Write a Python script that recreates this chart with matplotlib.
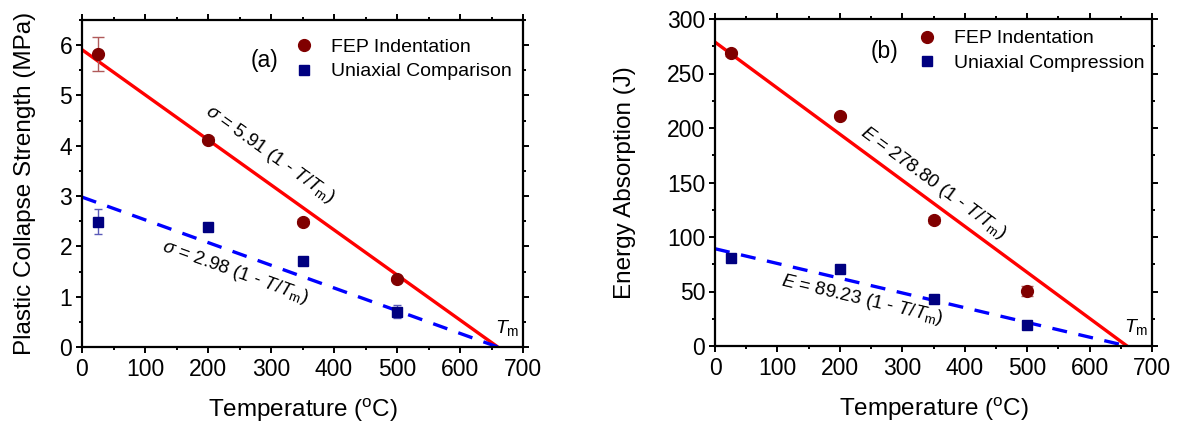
import numpy as np
import matplotlib.pyplot as plt
from matplotlib.ticker import MultipleLocator
from matplotlib.lines import Line2D

plt.rcParams['font.family'] = ['Liberation Sans', 'DejaVu Sans']
plt.rcParams['mathtext.fontset'] = 'custom'
plt.rcParams['mathtext.rm'] = 'Liberation Sans'
plt.rcParams['mathtext.it'] = 'Liberation Sans:italic'

# data
temp = [25, 200, 350, 500]
tm = 660

# (a) strength, MPa
fep_strength = [5.83, 4.12, 2.49, 1.35]
fep_strength_err = [0.34, 0.05, 0.05, 0.04]
uni_strength = [2.49, 2.38, 1.70, 0.70]
uni_strength_err = [0.25, 0.04, 0.04, 0.13]
fit_a = [5.91, 2.98]

# (b) energy absorption, J
fep_energy = [268.5, 211, 115.5, 50.5]
fep_energy_err = [2, 2, 3, 5]
uni_energy = [80.5, 71, 43.5, 19.3]
uni_energy_err = [2, 2, 2, 2]
fit_b = [278.80, 89.23]

W, H = 1178, 425
fig = plt.figure(figsize=(W / 100, H / 100), dpi=100)
ax1 = fig.add_axes([82 / W, (H - 347) / H, 441 / W, 327 / H])
ax2 = fig.add_axes([715 / W, (H - 346) / H, 437 / W, 327 / H])

red = '#ff0000'
blue = '#0000ff'
fep_c = '#800000'
uni_c = '#000080'


def draw(ax, fep, fep_err, uni, uni_err, fits, ylim, ymaj, ymin, ylabel,
         ylab_x, tag, tag_pos, uni_name, leg_xy, txt_pos, sym):
    ax.set_xlim(0, 700)
    ax.set_ylim(*ylim)
    tt = np.array([0, tm])
    ax.plot(tt, fits[0] * (1 - tt / tm), color=red, lw=2.4, zorder=2)
    ax.plot(tt, fits[1] * (1 - tt / tm), color=blue, lw=2.4,
            ls=(0, (4.5, 3.5)), zorder=2)
    ax.errorbar(temp, fep, yerr=fep_err, fmt='o', color=fep_c, ms=8.5,
                ecolor='#b05a5a', elinewidth=1, capsize=4, zorder=3)
    ax.errorbar(temp, uni, yerr=uni_err, fmt='s', color=uni_c, ms=7,
                ecolor='#5a5ab8', elinewidth=1, capsize=3, zorder=3)

    fig.canvas.draw()
    for fit, (x, y) in zip(fits, txt_pos):
        p0 = ax.transData.transform((0, fit))
        p1 = ax.transData.transform((tm, 0))
        ang = np.degrees(np.arctan2(p1[1] - p0[1], p1[0] - p0[0]))
        head = r'$\mathit{E}$' if sym == 'E' else r'$\mathit{\sigma}$'
        ax.text(x, y, head + r' = %.2f (1 - $\mathit{T/T}_{\rm m}$)' % fit,
                rotation=ang, rotation_mode='anchor', ha='center',
                va='center', fontsize=13.5)

    ax.text(655, ylim[1] * 0.058, r'$\mathit{T}_{\rm m}$', fontsize=14,
            ha='left', va='center')
    ax.text(tag_pos[0], tag_pos[1], tag, fontsize=16.5, ha='center',
            va='center')

    handles = [Line2D([], [], ls='none', marker='o', color=fep_c, ms=8.5),
               Line2D([], [], ls='none', marker='s', color=uni_c, ms=6.5)]
    ax.legend(handles, ['FEP Indentation', uni_name], loc='upper left',
              bbox_to_anchor=leg_xy, frameon=False, fontsize=14,
              handlelength=1.0, handletextpad=0.9, borderaxespad=0,
              borderpad=0, labelspacing=0.35)

    ax.xaxis.set_major_locator(MultipleLocator(100))
    ax.xaxis.set_minor_locator(MultipleLocator(50))
    ax.yaxis.set_major_locator(MultipleLocator(ymaj))
    ax.yaxis.set_minor_locator(MultipleLocator(ymin))
    ax.tick_params(which='both', direction='out', top=True, right=True,
                   width=1.4, labelsize=16.5)
    ax.tick_params(which='major', length=4)
    ax.tick_params(which='minor', length=2.5)
    ax.tick_params(axis='x', pad=4)
    ax.tick_params(axis='y', pad=3)
    for s in ax.spines.values():
        s.set_linewidth(1.6)
    ax.set_xlabel(r'Temperature ($^{\rm o}$C)', fontsize=17.5, labelpad=11)
    ax.set_ylabel(ylabel, fontsize=17.5)
    ax.yaxis.set_label_coords(ylab_x, 0.5)


draw(ax1, fep_strength, fep_strength_err, uni_strength, uni_strength_err,
     fit_a, (0, 6.5), 1, 0.5, 'Plastic Collapse Strength (MPa)', -0.104,
     '(a)', (290, 5.7), 'Uniaxial Comparison', (0.481, 0.944),
     [(298, 3.82), (243, 1.48)], 's')
draw(ax2, fep_energy, fep_energy_err, uni_energy, uni_energy_err,
     fit_b, (0, 300), 50, 25, 'Energy Absorption (J)', -0.181,
     '(b)', (271, 270), 'Uniaxial Compression', (0.463, 0.967),
     [(350, 150), (235, 42)], 'E')

fig.savefig('out.png', dpi=100)
plt.close(fig)
